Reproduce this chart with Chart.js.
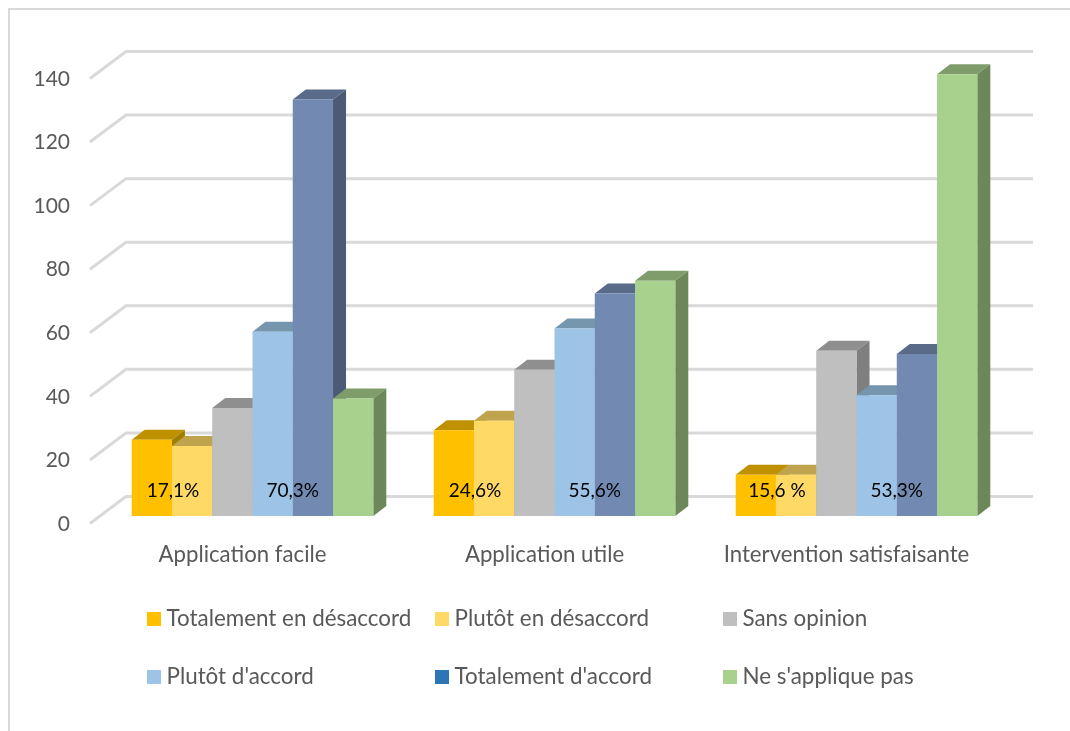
<!DOCTYPE html>
<html>
<head>
<meta charset="utf-8">
<title>Chart</title>
<script src="https://cdn.jsdelivr.net/npm/chart.js@4"></script>
<style>
  html, body { margin: 0; padding: 0; background: #fff; }
  canvas { display: block; }
</style>
</head>
<body>
<canvas id="chart" width="1070" height="731"></canvas>
<script>
const categories = ['Application facile', 'Application utile', 'Intervention satisfaisante'];
const seriesNames = ['Totalement en désaccord', 'Plutôt en désaccord', 'Sans opinion', "Plutôt d'accord", "Totalement d'accord", "Ne s'applique pas"];

const totalementDesaccord = [24, 27, 13];
const plutotDesaccord = [22, 30, 13];
const sansOpinion = [34, 46, 52];
const plutotAccord = [58, 59, 38];
const totalementAccord = [131, 70, 51];
const neSappliquePas = [37, 74, 139];

// percentages written across the two bars of each side
const desaccordLabels = ['17,1%', '24,6%', '15,6 %'];
const accordLabels = ['70,3%', '55,6%', '53,3%'];
const labelValue = 8;

const seriesValues = [totalementDesaccord, plutotDesaccord, sansOpinion, plutotAccord, totalementAccord, neSappliquePas];

const frontColors = ['#ffc000', '#ffd966', '#bfbfbf', '#9dc3e6', '#7289b2', '#a9d18e'];
const topColors = ['#bf9000', '#bfa34d', '#8f8f8f', '#7696ad', '#5a6b8a', '#7f9d6b'];
const sideColors = ['#a07f00', '#a08a40', '#7f7f7f', '#69829a', '#4c5a75', '#6c8759'];
const legendColors = ['#ffc000', '#ffd966', '#bfbfbf', '#9dc3e6', '#2e75b6', '#a9d18e'];

const FONT = 'Lato, "Open Sans", sans-serif';
const TEXT = '#595959';
const GRID = '#d9d9d9';

// the painted depth of the walls and of the bars
const wallX = 36, wallY = 27;
const frontDropY = 7.5, wallLeft = 90, wallRight = 1033;
const barDepthX = 13, barDepthY = 10;

function poly(ctx, color, pts) {
  ctx.fillStyle = color;
  ctx.beginPath();
  pts.forEach((p, i) => i ? ctx.lineTo(p[0], p[1]) : ctx.moveTo(p[0], p[1]));
  ctx.closePath();
  ctx.fill();
}

const backdrop = {
  id: 'backdrop',
  beforeDraw(chart) {
    const ctx = chart.ctx;
    ctx.save();
    ctx.fillStyle = '#fff';
    ctx.fillRect(0, 0, chart.width, chart.height);
    // chart frame, only top and left are inside the picture
    ctx.strokeStyle = GRID;
    ctx.lineWidth = 2;
    ctx.beginPath();
    ctx.moveTo(9, chart.height);
    ctx.lineTo(9, 9);
    ctx.lineTo(chart.width, 9);
    ctx.stroke();

    // gridlines on the side wall and the back wall
    ctx.lineWidth = 3;
    chart.scales.y.ticks.forEach(t => {
      const y = chart.scales.y.getPixelForValue(t.value);
      ctx.beginPath();
      ctx.moveTo(wallLeft, y + frontDropY);
      ctx.lineTo(wallLeft + wallX, y + frontDropY - wallY);
      ctx.lineTo(wallRight, y + frontDropY - wallY);
      ctx.stroke();
    });
    ctx.restore();
  }
};

// bars have to be painted left to right so each one hides the side of the previous
const bars3d = {
  id: 'bars3d',
  beforeDatasetDraw() {
    return false;
  },
  afterDatasetsDraw(chart) {
    const ctx = chart.ctx;
    seriesValues.forEach((values, i) => {
      const meta = chart.getDatasetMeta(i);
      meta.data.forEach(bar => {
        const left = bar.x - bar.width / 2, right = bar.x + bar.width / 2;
        poly(ctx, topColors[i], [[left, bar.y], [right, bar.y], [right + barDepthX, bar.y - barDepthY], [left + barDepthX, bar.y - barDepthY]]);
        poly(ctx, sideColors[i], [[right, bar.y], [right + barDepthX, bar.y - barDepthY], [right + barDepthX, bar.base - barDepthY], [right, bar.base]]);
      });
      meta.controller.draw();
    });

    ctx.save();
    ctx.font = '19px ' + FONT;
    ctx.fillStyle = '#000';
    ctx.textAlign = 'center';
    ctx.textBaseline = 'middle';
    const y = chart.scales.y.getPixelForValue(labelValue);
    categories.forEach((c, j) => {
      const a = chart.getDatasetMeta(0).data[j];
      const b = chart.getDatasetMeta(3).data[j];
      ctx.fillText(desaccordLabels[j], a.x + a.width / 2 + 1, y);
      ctx.fillText(accordLabels[j], b.x + b.width / 2, y);
    });
    ctx.restore();
  }
};

// legend in a 3 x 2 grid with aligned columns
const gridLegend = {
  id: 'gridLegend',
  afterDraw(chart) {
    const ctx = chart.ctx;
    const colX = [147, 435, 723], rowY = [612, 670];
    ctx.save();
    ctx.font = '22.4px ' + FONT;
    ctx.textBaseline = 'middle';
    seriesNames.forEach((name, i) => {
      const x = colX[i % 3], y = rowY[Math.floor(i / 3)];
      ctx.fillStyle = legendColors[i];
      ctx.fillRect(x, y, 14, 14);
      ctx.fillStyle = TEXT;
      ctx.fillText(name, x + 19.5, y + 7);
    });
    ctx.restore();
  }
};

new Chart(document.getElementById('chart'), {
  type: 'bar',
  data: {
    labels: categories,
    datasets: seriesNames.map((name, i) => ({
      label: name,
      data: seriesValues[i],
      backgroundColor: frontColors[i],
      borderWidth: 0,
      barPercentage: 1,
      categoryPercentage: 0.8
    }))
  },
  options: {
    responsive: false,
    animation: false,
    layout: { padding: { top: 71, right: 62.5 } },
    plugins: { legend: { display: false }, tooltip: { enabled: false } },
    scales: {
      x: {
        grid: { display: false, drawTicks: false },
        border: { display: false },
        afterFit(scale) { scale.height = 215; },
        ticks: { color: TEXT, font: { family: FONT, size: 22.2 }, padding: 26, labelOffset: -10, maxRotation: 0 }
      },
      y: {
        min: 0,
        max: 140,
        grid: { display: false, drawTicks: false },
        border: { display: false },
        afterFit(scale) { scale.width = 101.5; },
        ticks: { stepSize: 20, color: TEXT, font: { family: FONT, size: 21 }, padding: 31.5, labelOffset: 8 }
      }
    }
  },
  plugins: [backdrop, bars3d, gridLegend]
});
</script>
</body>
</html>
